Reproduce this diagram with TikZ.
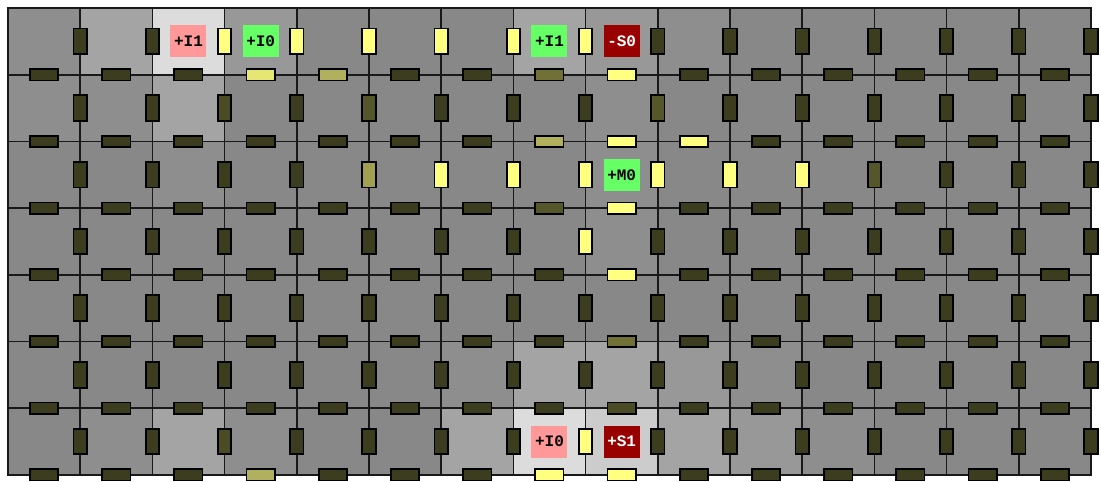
\documentclass[tikz,border=0pt]{standalone}
\usepackage{fontspec}
\newfontfamily\tagfont{Liberation Mono}
\usepackage{tikz}
\usetikzlibrary{positioning}
\definecolor{cellbase}{HTML}{888888}
\definecolor{cellA}{HTML}{8E8E8E}
\definecolor{cellB}{HTML}{989898}
\definecolor{cellC}{HTML}{A4A4A4}
\definecolor{cellD}{HTML}{CCCCCC}
\definecolor{cellE}{HTML}{DCDCDC}
\definecolor{wireoff}{HTML}{3C3C1E}
\definecolor{wireA}{HTML}{4B4B26}
\definecolor{wireB}{HTML}{56562B}
\definecolor{wireC}{HTML}{717137}
\definecolor{wireD}{HTML}{A0A050}
\definecolor{wireE}{HTML}{B0B05E}
\definecolor{wireF}{HTML}{E6E672}
\definecolor{wireon}{HTML}{FFFF80}
\definecolor{posfire}{HTML}{66FF66}
\definecolor{negfire}{HTML}{FF9999}
\definecolor{spikefire}{HTML}{990000}
\tikzset{
    hwire/.style={rectangle, draw=black, line width=1.3pt, fill=wireoff, minimum width=21.2pt, minimum height=8.6pt, inner sep=0pt},
    vwire/.style={rectangle, draw=black, line width=1.3pt, fill=wireoff, minimum width=10pt, minimum height=19.2pt, inner sep=0pt},
    tag/.style={rectangle, minimum width=27pt, minimum height=24pt, inner sep=0pt, font=\tagfont\bfseries\fontsize{12}{12}\selectfont},
    plustag/.style={tag, fill=posfire},
    minustag/.style={tag, fill=negfire},
    spiketag/.style={tag, fill=spikefire, text=white},
    gridline/.style={line width=1.3pt, draw=black!90}
}
\begin{document}
\begin{tikzpicture}[x=54.15pt, y=-50.025pt]
        \useasboundingbox (-0.1108,-0.1199) rectangle (15.139,7.1064);
        % Cells
        \fill[cellbase] (0,0) rectangle (15,7);
        \foreach \c/\r/\col in {0/0/cellA, 1/0/cellC, 2/0/cellE, 3/0/cellB, 7/0/cellC, 8/0/cellB, 9/0/cellA,
                                0/1/cellA, 1/1/cellA, 2/1/cellC, 8/1/cellA,
                                2/2/cellA, 8/2/cellA, 8/3/cellA,
                                6/5/cellA, 7/5/cellC, 8/5/cellC, 9/5/cellB, 10/5/cellA,
                                1/6/cellA, 2/6/cellC, 3/6/cellA, 6/6/cellC, 7/6/cellE, 8/6/cellD, 9/6/cellC, 10/6/cellB, 11/6/cellA}
            \fill[\col] (\c,\r) rectangle (\c+1,\r+1);
        
        % Grid
        \foreach \c in {1,...,14} \draw[gridline] (\c,0) -- (\c,7);
        \foreach \r in {1,...,6} \draw[gridline] (0,\r) -- (15,\r);
        \draw[gridline] (0,0) rectangle (15,7);
        
        % Wires
        \foreach \r in {0,...,6} \foreach \c in {1,...,15} \node[vwire] (v\r-\c) at (\c,\r+0.5) {};
        \foreach \r in {1,...,7} \foreach \c in {0,...,14} \node[hwire] (h\r-\c) at (\c+0.5,\r) {};
        
        % Active wires
        \foreach \r/\c/\col in {0/3/wireon, 0/4/wireon, 0/5/wireon, 0/6/wireon, 0/7/wireon, 0/8/wireon,
                                1/3/wireA, 1/5/wireB, 1/9/wireB,
                                2/5/wireD, 2/6/wireon, 2/7/wireon, 2/8/wireon, 2/9/wireon, 2/10/wireon, 2/11/wireon, 2/12/wireB,
                                3/8/wireon, 6/3/wireA, 6/8/wireon}
            \node[vwire, fill=\col] (v\r-\c) at (\c,\r+0.5) {};
        \foreach \r/\c/\col in {1/3/wireF, 1/4/wireE, 1/7/wireC, 1/8/wireon,
                                2/7/wireE, 2/8/wireon, 2/9/wireon,
                                3/7/wireB, 3/8/wireon, 4/8/wireon, 5/8/wireC, 6/8/wireA,
                                7/3/wireE, 7/7/wireon, 7/8/wireon}
            \node[hwire, fill=\col] (h\r-\c) at (\c+0.5,\r) {};
        
        % Tags
        \node[minustag] (in1a) at (2.5,0.5) {+I1};
        \node[plustag] (in0a) at (3.5,0.5) {+I0};
        \node[plustag] (in1b) at (7.5,0.5) {+I1};
        \node[spiketag] (s0) at (8.5,0.5) {-S0};
        \node[plustag] (m0) at (8.5,2.5) {+M0};
        \node[minustag] (in0b) at (7.5,6.5) {+I0};
        \node[spiketag] (s1) at (8.5,6.5) {+S1};
    \end{tikzpicture}
\end{document}
